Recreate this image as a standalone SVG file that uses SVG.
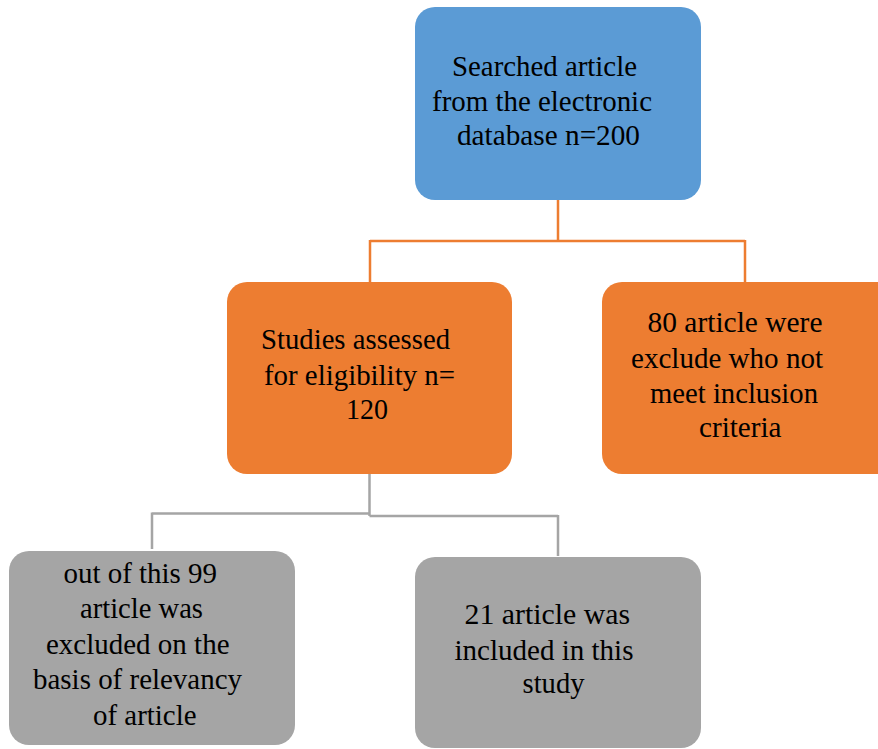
<svg xmlns="http://www.w3.org/2000/svg" width="878" height="749" viewBox="0 0 878 749">
<style>
text{font-family:'Liberation Serif','Times New Roman',serif;font-size:29px;fill:#000}
.blue{fill:#5B9BD5}
.orange{fill:#ED7D31}
.gray{fill:#A5A5A5}
.co{stroke:#ED7D31;stroke-width:2.5;fill:none}
.cg{stroke:#A5A5A5;stroke-width:2.5;fill:none}
</style>
<rect width="878" height="749" fill="#fff"/>
<g id="connectors">
<path class="co" d="M558,200 V241 M370,241 H745 M370,240 V282 M745,240 V282"/>
<path class="cg" d="M369.5,474 V516 M152,513.5 H369.5 M369.5,516 H558 M152,512.5 V549 M558,515 V556"/>
</g>
<g id="n1">
<rect class="blue" x="415" y="7" width="286" height="193" rx="20"/>
<text x="452" y="76" textLength="185" lengthAdjust="spacingAndGlyphs">Searched article</text>
<text x="432" y="110.5" textLength="220" lengthAdjust="spacingAndGlyphs">from the electronic</text>
<text x="457" y="145" textLength="183" lengthAdjust="spacingAndGlyphs">database n=200</text>
</g>
<g id="n2">
<rect class="orange" x="227" y="282" width="285" height="192" rx="20"/>
<text x="261" y="349" textLength="189" lengthAdjust="spacingAndGlyphs">Studies assessed</text>
<text x="264" y="384.5" textLength="191" lengthAdjust="spacingAndGlyphs">for eligibility n=</text>
<text x="346" y="419" textLength="42" lengthAdjust="spacingAndGlyphs">120</text>
</g>
<g id="n3">
<rect class="orange" x="602" y="282" width="296" height="192" rx="20"/>
<text x="647.5" y="332" textLength="175" lengthAdjust="spacingAndGlyphs">80 article were</text>
<text x="631" y="367.5" textLength="192" lengthAdjust="spacingAndGlyphs">exclude who not</text>
<text x="650" y="402.5" textLength="168" lengthAdjust="spacingAndGlyphs">meet inclusion</text>
<text x="699" y="437" textLength="82.5" lengthAdjust="spacingAndGlyphs">criteria</text>
</g>
<g id="n4">
<rect class="gray" x="9" y="551" width="286" height="194" rx="20"/>
<text x="63.5" y="583" textLength="153.5" lengthAdjust="spacingAndGlyphs">out of this 99</text>
<text x="80" y="618" textLength="123" lengthAdjust="spacingAndGlyphs">article was</text>
<text x="46" y="654" textLength="183.5" lengthAdjust="spacingAndGlyphs">excluded on the</text>
<text x="33" y="689" textLength="209" lengthAdjust="spacingAndGlyphs">basis of relevancy</text>
<text x="93" y="725" textLength="103.5" lengthAdjust="spacingAndGlyphs">of article</text>
</g>
<g id="n5">
<rect class="gray" x="415" y="557" width="286" height="191" rx="20"/>
<text x="464.5" y="624" textLength="165.5" lengthAdjust="spacingAndGlyphs">21 article was</text>
<text x="454.5" y="659.5" textLength="179" lengthAdjust="spacingAndGlyphs">included in this</text>
<text x="522.5" y="693" textLength="62" lengthAdjust="spacingAndGlyphs">study</text>
</g>
</svg>
